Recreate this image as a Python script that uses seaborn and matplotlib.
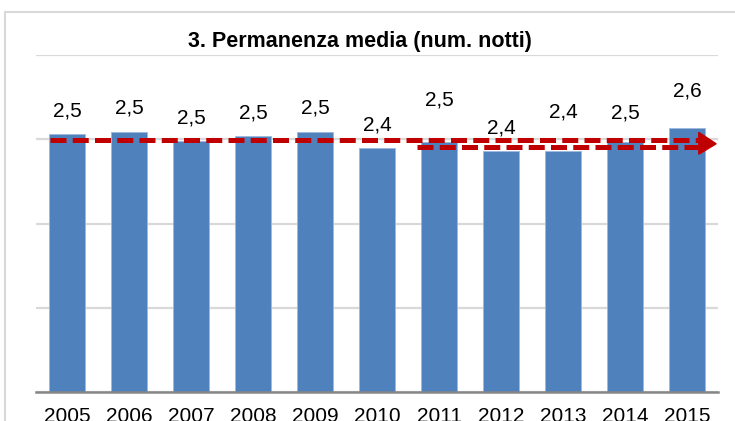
import numpy as np
import matplotlib
matplotlib.use("Agg")
import matplotlib.pyplot as plt
from matplotlib.patches import Rectangle, Polygon
import seaborn as sns

# ---- data ----
years = ["2005", "2006", "2007", "2008", "2009", "2010",
         "2011", "2012", "2013", "2014", "2015"]
values = [2.53, 2.545, 2.455, 2.51, 2.545, 2.39, 2.445, 2.36, 2.36, 2.45, 2.59]
value_labels = ["2,5", "2,5", "2,5", "2,5", "2,5", "2,4",
                "2,5", "2,4", "2,4", "2,5", "2,6"]
trend_all = 2.464      # level of long dashed trend (2005-2015)
trend_recent = 2.397   # level of short dashed trend (2011-2015)
title = "3. Permanenza media (num. notti)"

# label offsets above bar tops (pixels) -- layout only
label_offsets_px = [23, 24, 23, 23, 24, 23, 42, 23, 39, 29, 37]

sns.set_theme(style="white")
plt.rcParams["font.family"] = ["Liberation Sans Narrow", "Liberation Sans", "DejaVu Sans"]

W, H = 735, 421
fig = plt.figure(figsize=(W / 100, H / 100), dpi=100)
ax = fig.add_axes([36 / W, 29 / H, (718 - 36) / W, (392 - 55) / H])

bar_color = "#4F81BD"
sns.barplot(x=years, y=values, color=bar_color, saturation=1, width=0.57, ax=ax,
            edgecolor="#9DB9DE", linewidth=0.6)

ax.set_xlim(-0.5, len(years) - 0.5)
ymax = 3.3
ax.set_ylim(0, ymax)
ax.set_yticks(np.linspace(0, ymax, 5))
ax.set_yticklabels([])
ax.yaxis.grid(True, color="#D9D9D9", linewidth=1.6)
ax.set_axisbelow(True)
ax.set_xlabel("")
ax.set_ylabel("")
for s in ["left", "right", "top"]:
    ax.spines[s].set_visible(False)
ax.spines["bottom"].set_color("#868686")
ax.spines["bottom"].set_linewidth(1.8)
ax.tick_params(axis="x", length=0, pad=11, labelsize=15, colors="black")
ax.tick_params(axis="y", length=0)

# data labels
for i, (v, lab, off) in enumerate(zip(values, value_labels, label_offsets_px)):
    ax.annotate(lab, xy=(i, v), xytext=(0, off), textcoords="offset pixels",
                ha="center", va="center", fontsize=15, color="black")

# trend dashed lines
red = "#C00000"
dash = (0, (3.2, 1.25))
ax.plot([-0.28, 10.19], [trend_all, trend_all], color=red, lw=3.6,
        linestyle=dash, dash_capstyle="butt", zorder=5)
ax.plot([5.65, 10.19], [trend_recent, trend_recent], color=red, lw=3.6,
        linestyle=dash, dash_capstyle="butt", zorder=5)
# arrow head
px_per_unit = (392 - 55) / ymax
head_top = trend_all + 8 / px_per_unit
head_bot = trend_recent - 7 / px_per_unit
head_tip = (trend_all + trend_recent) / 2
ax.add_patch(Polygon([[10.19, head_top], [10.19, head_bot], [10.47, head_tip]],
                     closed=True, facecolor=red, edgecolor=red, zorder=6,
                     clip_on=False))

# title
fig.text(360 / W, 1 - 41 / H, title, ha="center", va="center",
         fontsize=15.5, fontweight="bold", color="black")

# outer chart frame
fig.patches.append(Rectangle((5 / W, -0.2), 2.0, (H - 12) / H + 0.2,
                             transform=fig.transFigure, fill=False,
                             edgecolor="#D9D9D9", linewidth=1.5))

fig.savefig("out.png", dpi=100)
